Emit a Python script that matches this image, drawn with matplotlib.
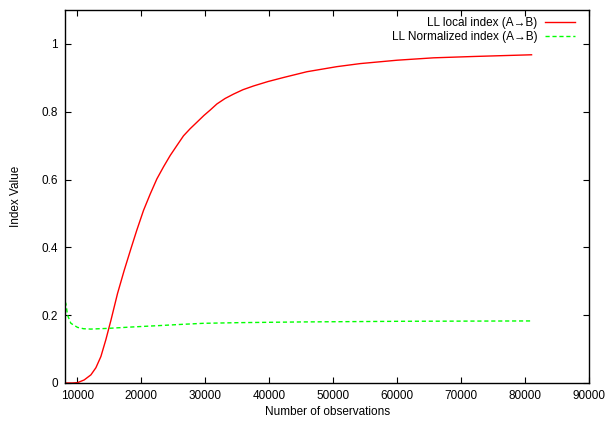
import matplotlib.pyplot as plt
import numpy as np

plt.rcParams['font.family'] = ['Liberation Sans', 'DejaVu Sans']
plt.rcParams['font.size'] = 8.5

# valores
obs_local = [8100, 9200, 10050, 11090, 12140, 12920, 13700, 14480, 15270,
             16300, 17340, 18390, 19300, 20360, 21400, 22450, 23500, 24530,
             25600, 26610, 27650, 28700, 29800, 30780, 31830, 33100, 34420,
             35900, 37550, 39800, 42240, 45890, 50580, 54220, 60000, 65670,
             72000, 81000]
local_idx = [0.0, 0.0, 0.001, 0.009, 0.024, 0.045, 0.078, 0.128, 0.185,
             0.264, 0.332, 0.396, 0.45, 0.509, 0.557, 0.602, 0.638, 0.671,
             0.701, 0.729, 0.750, 0.769, 0.789, 0.805, 0.823, 0.839, 0.852,
             0.865, 0.876, 0.889, 0.901, 0.918, 0.933, 0.942, 0.952, 0.959,
             0.963, 0.968]

obs_norm = [8100, 8230, 8490, 9010, 10050, 11000, 12140, 14740, 18390,
            22550, 26450, 29730, 35470, 44840, 60980, 81000]
norm_idx = [0.24, 0.234, 0.200, 0.176, 0.164, 0.160, 0.159, 0.161, 0.165,
            0.169, 0.173, 0.176, 0.178, 0.180, 0.182, 0.183]

fig = plt.figure(figsize=(6.08, 4.23), dpi=100)
ax = fig.add_axes([0.107, 0.0946, 0.862, 0.8817])

ax.plot(obs_local, local_idx, color='#ff0000', lw=1,
        label='LL local index (A→B)')
ax.plot(obs_norm, norm_idx, color='#00ff00', lw=1, ls=(0, (3, 2)),
        label='LL Normalized index (A→B)')

ax.set_xlim(8100, 90000)
ax.set_ylim(0, 1.1)
ax.set_xticks(np.arange(10000, 90001, 10000))
ax.set_yticks([0, 0.2, 0.4, 0.6, 0.8, 1])
ax.set_yticklabels(['0', '0.2', '0.4', '0.6', '0.8', '1'])
ax.tick_params(direction='in', top=True, right=True, length=4, width=0.8, pad=5)
for s in ax.spines.values():
    s.set_linewidth(1)

ax.set_xlabel('Number of observations', labelpad=3)
ax.set_ylabel('Index Value', labelpad=14)

ax.legend(loc='upper right', bbox_to_anchor=(0.987, 1.0), frameon=False,
          markerfirst=False, handlelength=2.6, handletextpad=0.6,
          borderaxespad=0.2, labelspacing=0.15)

fig.savefig('out.png', dpi=100)
